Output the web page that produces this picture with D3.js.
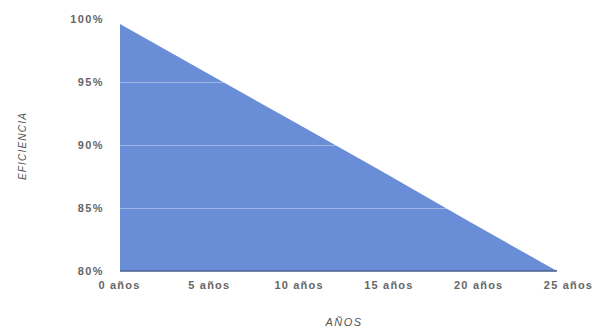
<!DOCTYPE html>
<html><head><meta charset="utf-8">
<script src="https://cdn.jsdelivr.net/npm/d3@7"></script>
<style>body{margin:0;background:#fff}svg{display:block}</style>
</head><body>
<script>
const years = [0, 5, 10, 15, 20, 25];
const efficiency = [99.6, 95.7, 91.8, 87.9, 83.9, 80.0];
const xTickLabels = ["0 años", "5 años", "10 años", "15 años", "20 años", "25 años"];
const yTicks = [80, 85, 90, 95, 100];
const yTickLabels = ["80%", "85%", "90%", "95%", "100%"];

const W = 592, H = 327;
const svg = d3.select("body").append("svg").attr("width", W).attr("height", H);
const x = d3.scaleLinear().domain([0, 25]).range([120, 557]);
const xl = d3.scalePoint().domain(xTickLabels).range([119, 568]);
const y = d3.scaleLinear().domain([80, 100]).range([271, 19]);
const data = years.map((t, i) => ({t, v: efficiency[i]}));

const area = d3.area().x(d => x(d.t)).y0(y(80)).y1(d => y(d.v));
svg.append("path").datum(data).attr("d", area).attr("fill", "#6a8dd8");

// gridlines (light, only visible over the fill)
svg.append("g").selectAll("line").data(yTicks.slice(1, 4)).join("line")
  .attr("x1", x(0)).attr("x2", x(25)).attr("y1", d => y(d) + 0.5).attr("y2", d => y(d) + 0.5)
  .attr("stroke", "#ffffff").attr("stroke-width", 1).attr("opacity", 0.35);

// baseline
svg.append("line").attr("x1", x(0)).attr("x2", x(25)).attr("y1", y(80)).attr("y2", y(80))
  .attr("stroke", "#4a5f8c").attr("stroke-width", 1.5);

const font = "'Liberation Sans', Arial, sans-serif";
// y axis
const yAxis = d3.axisLeft(y).tickValues(yTicks).tickFormat((d, i) => yTickLabels[i]).tickSize(0).tickPadding(0);
const gy = svg.append("g").attr("transform", "translate(104,0)").call(yAxis);
gy.select(".domain").remove();
gy.selectAll("text").attr("font-family", font).attr("font-size", 11).attr("font-weight", "bold")
  .attr("letter-spacing", 1.4).attr("fill", "#666");

// x axis
const xAxis = d3.axisBottom(xl).tickSize(0).tickPadding(0);
const gx = svg.append("g").attr("transform", "translate(0,281)").call(xAxis);
gx.select(".domain").remove();
gx.selectAll("text").attr("font-family", font).attr("font-size", 11).attr("font-weight", "bold")
  .attr("letter-spacing", 1.2).attr("fill", "#666");

// titles
svg.append("text").attr("x", 344).attr("y", 326).attr("text-anchor", "middle")
  .attr("font-family", font).attr("font-size", 11).attr("font-style", "italic")
  .attr("letter-spacing", 1.5).attr("fill", "#555").text("AÑOS");
svg.append("text").attr("transform", "translate(26,146) rotate(-90)").attr("text-anchor", "middle")
  .attr("font-family", font).attr("font-size", 10).attr("font-style", "italic")
  .attr("letter-spacing", 1.2).attr("fill", "#555").text("EFICIENCIA");
</script>
</body></html>
